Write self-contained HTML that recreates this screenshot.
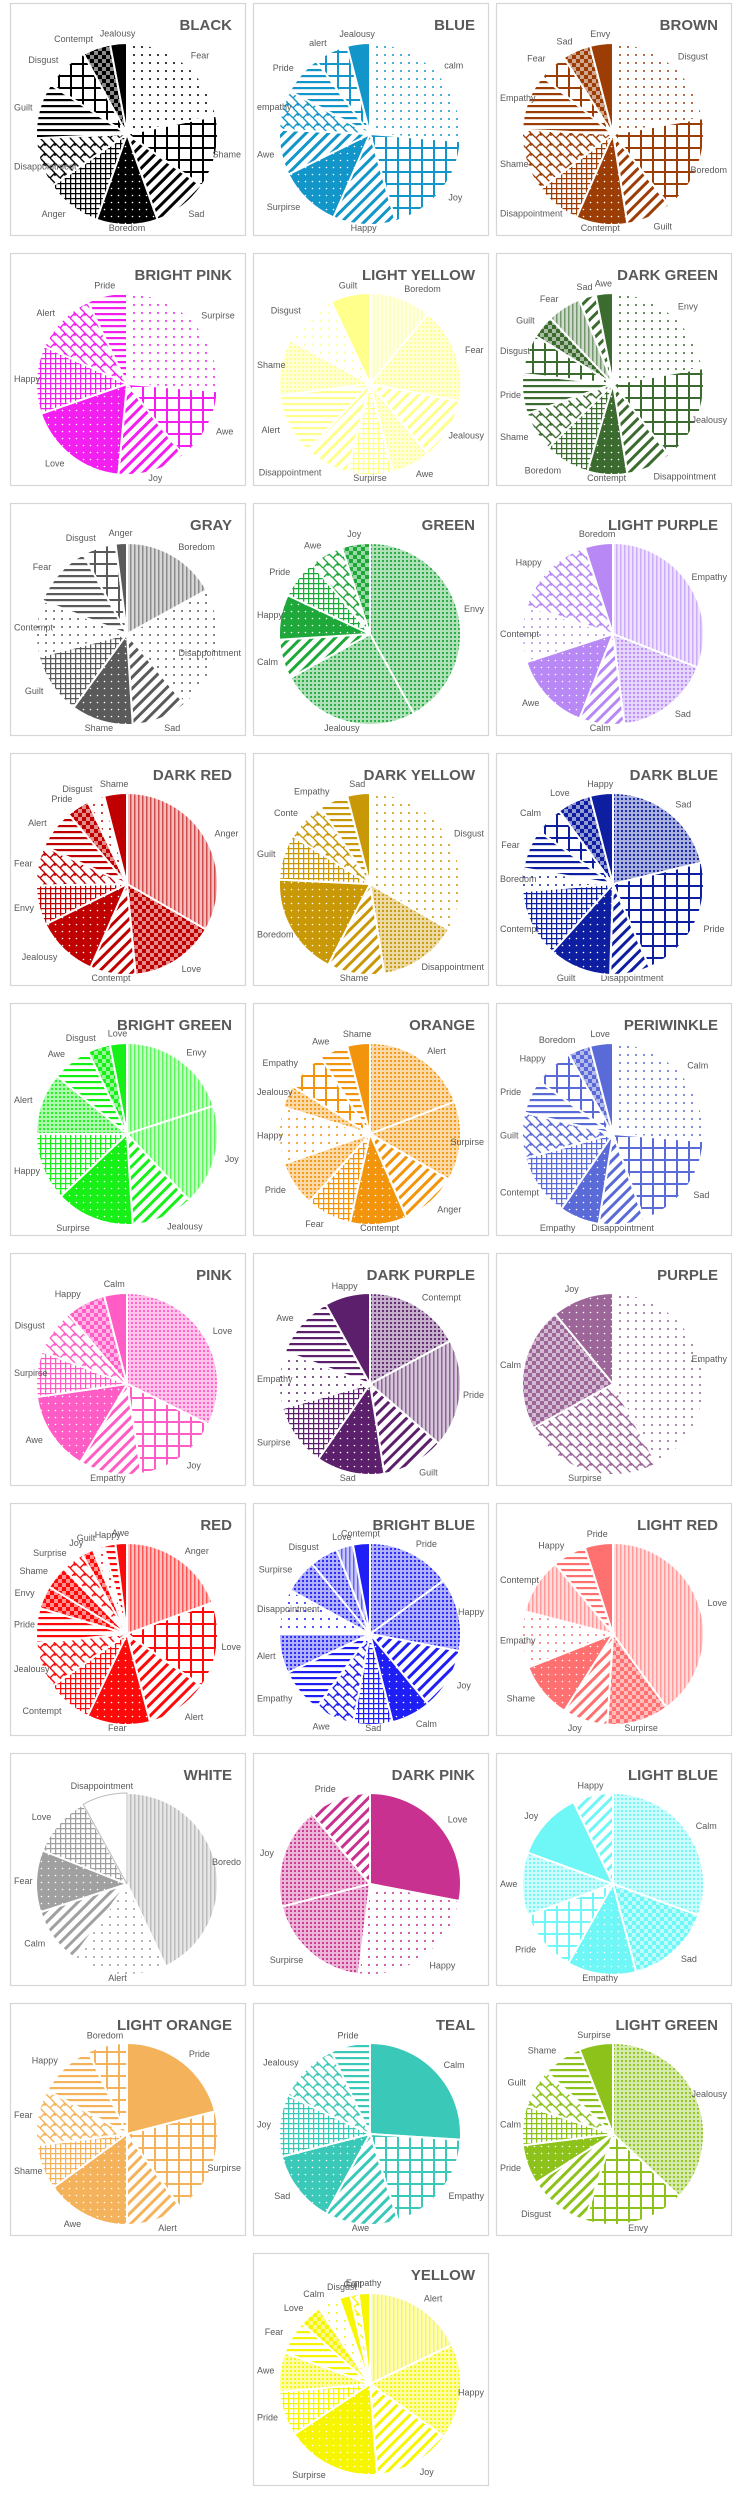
<!DOCTYPE html>
<html><head><meta charset="utf-8"><style>
html,body{margin:0;padding:0;background:#fff;}
svg{display:block;font-family:"Liberation Sans",sans-serif;}
</style></head><body>
<svg id="chart" width="738" height="2500" viewBox="0 0 738 2500" xmlns="http://www.w3.org/2000/svg"><defs id="defs"></defs></svg>
<script>
const chartTitles = ["BLACK","BLUE","BROWN","BRIGHT PINK","LIGHT YELLOW","DARK GREEN","GRAY","GREEN","LIGHT PURPLE","DARK RED","DARK YELLOW","DARK BLUE","BRIGHT GREEN","ORANGE","PERIWINKLE","PINK","DARK PURPLE","PURPLE","RED","BRIGHT BLUE","LIGHT RED","WHITE","DARK PINK","LIGHT BLUE","LIGHT ORANGE","TEAL","LIGHT GREEN","YELLOW"];
const chartLabels = [
["Fear","Shame","Sad","Boredom","Anger","Disappointment","Guilt","Disgust","Contempt","Jealousy"],
["calm","Joy","Happy","Surpirse","Awe","empathy","Pride","alert","Jealousy"],
["Disgust","Boredom","Guilt","Contempt","Disappointment","Shame","Empathy","Fear","Sad","Envy"],
["Surpirse","Awe","Joy","Love","Happy","Alert","Pride"],
["Boredom","Fear","Jealousy","Awe","Surpirse","Disappointment","Alert","Shame","Disgust","Guilt"],
["Envy","Jealousy","Disappointment","Contempt","Boredom","Shame","Pride","Disgust","Guilt","Fear","Sad","Awe"],
["Boredom","Disappointment","Sad","Shame","Guilt","Contempt","Fear","Disgust","Anger"],
["Envy","Jealousy","Calm","Happy","Pride","Awe","Joy"],
["Empathy","Sad","Calm","Awe","Contempt","Happy","Boredom"],
["Anger","Love","Contempt","Jealousy","Envy","Fear","Alert","Pride","Disgust","Shame"],
["Disgust","Disappointment","Shame","Boredom","Guilt","Conte","Empathy","Sad"],
["Sad","Pride","Disappointment","Guilt","Contempt","Boredom","Fear","Calm","Love","Happy"],
["Envy","Joy","Jealousy","Surpirse","Happy","Alert","Awe","Disgust","Love"],
["Alert","Surpirse","Anger","Contempt","Fear","Pride","Happy","Jealousy","Empathy","Awe","Shame"],
["Calm","Sad","Disappointment","Empathy","Contempt","Guilt","Pride","Happy","Boredom","Love"],
["Love","Joy","Empathy","Awe","Surpirse","Disgust","Happy","Calm"],
["Contempt","Pride","Guilt","Sad","Surpirse","Empathy","Awe","Happy"],
["Empathy","Surpirse","Calm","Joy"],
["Anger","Love","Alert","Fear","Contempt","Jealousy","Pride","Envy","Shame","Surprise","Joy","Guilt","Happy","Awe"],
["Pride","Happy","Joy","Calm","Sad","Awe","Empathy","Alert","Disappointment","Surpirse","Disgust","Love","Contempt"],
["Love","Surpirse","Joy","Shame","Empathy","Contempt","Happy","Pride"],
["Boredo","Alert","Calm","Fear","Love","Disappointment"],
["Love","Happy","Surpirse","Joy","Pride"],
["Calm","Sad","Empathy","Pride","Awe","Joy","Happy"],
["Pride","Surpirse","Alert","Awe","Shame","Fear","Happy","Boredom"],
["Calm","Empathy","Awe","Sad","Joy","Jealousy","Pride"],
["Jealousy","Envy","Disgust","Pride","Calm","Guilt","Shame","Surpirse"],
["Alert","Happy","Joy","Surpirse","Pride","Awe","Fear","Love","Calm","Disgust","Guilt","Empathy"]
];
const chartValues = [
[22,13,10,11,10,9,10,8,5,3],
[26,19,11,11,8,7,7,6,4],
[22,17,8,9,8,11,10,5,5,4],
[26,13,12,18,12,11,7],
[11,17,11,7,8,8,11,10,10,7],
[22,17,8,7,8,7,7,7,4,6,3,3],
[17,22,10,11,11,10,11,6,2],
[42,25,7,8,7,6,5],
[31,17,8,14,10,15,5],
[33,15,8,11,7,7,7,4,3,4],
[33,14,10,18,8,7,5,4],
[21,22,7,11,12,4,7,5,6,4],
[20,18,11,14,12,11,7,4,3],
[19,14,10,10,8,8,10,4,7,5,4],
[26,18,8,7,11,8,6,7,4,4],
[32,15,11,14,8,8,7,4],
[17,19,11,12,11,10,11,8],
[42,25,22,11],
[19,15,11,11,8,8,6,4,4,4,2,2,2,2],
[15,13,11,7,7,7,8,7,8,6,5,3,3],
[40,11,8,10,10,10,6,5],
[43,17,10,11,11,8],
[28,24,19,18,11],
[30,15,12,11,11,12,7],
[21,19,10,15,8,10,10,7],
[26,19,13,13,11,11,7],
[37,18,11,7,7,7,7,6],
[18,17,14,17,8,7,6,4,4,2,1.5,2]
];
// styling (not data)
const chartColors = ["#000000","#1295c8","#9c3d06","#f31ef0","#ffff8c","#3b6b2e","#5a5a5a","#1fa83a","#b888f5","#c00000","#c99806","#0d1fa0","#17f017","#f2950c","#5a6bd8","#ff5cc6","#5c1f6b","#9c6699","#ff0a0a","#1f1ff5","#ff7070","#a0a0a0","#c8318f","#6ff6f6","#f4b25a","#3ac9b8","#8cc21a","#f7f500"];
const chartPatterns = [
["dots","grid","diag","soliddots","smallgrid","brick","hlines","grid","check","solid"],
["dots","grid","diag","soliddots","diag","brick","hlines","grid","solid"],
["dots","grid","diag","soliddots","smallgrid","brick","hlines","grid","check","solid"],
["dots","grid","diag","soliddots","smallgrid","brick","hlines"],
["vlines","dense","diag","dense","smallgrid","diag","hlines","dense","dots","solid"],
["dots","grid","diag","soliddots","smallgrid","brick","hlines","grid","check","vlines","diag","solid"],
["vlines","dots","diag","soliddots","smallgrid","dots","hlines","grid","solid"],
["dense","dense","diag","soliddots","smallgrid","brick","check"],
["vlines","dense","diag","soliddots","dots","brick","solid"],
["vlines","check","diag","soliddots","smallgrid","brick","hlines","check","dots","solid"],
["dots","dense","diag","soliddots","smallgrid","brick","hlines","solid"],
["dense","grid","diag","soliddots","smallgrid","dots","hlines","grid","check","solid"],
["vlines","vlines","diag","soliddots","smallgrid","dense","hlines","check","solid"],
["dense","dense","diag","soliddots","smallgrid","dense","dots","dense","grid","hlines","solid"],
["dots","grid","diag","soliddots","smallgrid","brick","hlines","grid","check","solid"],
["dense","grid","diag","soliddots","smallgrid","brick","check","solid"],
["dense","vlines","diag","soliddots","smallgrid","dots","hlines","solid"],
["dots","brick","check","soliddots"],
["vlines","grid","diag","soliddots","smallgrid","brick","hlines","check","check","brick","check","dots","hlines","solid"],
["dense","dense","diag","soliddots","smallgrid","brick","hlines","dense","dots","dense","dense","vlines","solid"],
["vlines","check","diag","soliddots","dots","vlines","hlines","solid"],
["vlines","dots","diag","soliddots","smallgrid","none"],
["solid","dots","dense","dense","diag"],
["dense","check","soliddots","grid","dense","solid","diag"],
["solid","grid","diag","soliddots","smallgrid","brick","hlines","grid"],
["solid","grid","diag","soliddots","smallgrid","brick","hlines"],
["dense","grid","diag","soliddots","smallgrid","brick","hlines","solid"],
["vlines","dense","diag","soliddots","smallgrid","dense","hlines","check","dots","solid","brick","solid"]
];

const NS = "http://www.w3.org/2000/svg";
const svg = document.getElementById("chart");
const defs = document.getElementById("defs");
function mk(tag, attrs, parent){const e=document.createElementNS(NS,tag);for(const k in attrs)e.setAttribute(k,attrs[k]);if(parent)parent.appendChild(e);return e;}

function makePattern(id, type, c){
  const sizes={dots:8,grid:12,smallgrid:5,diag:8,soliddots:7,hlines:6,vlines:4,dense:4,check:8,brick:10};
  const s=sizes[type]||8;
  const p=mk("pattern",{id:id,patternUnits:"userSpaceOnUse",width:s,height:s},defs);
  if(type==="diag") p.setAttribute("patternTransform","rotate(45)");
  mk("rect",{x:0,y:0,width:s,height:s,fill:"#fff"},p);
  if(type==="dots") mk("circle",{cx:4,cy:4,r:1,fill:c},p);
  else if(type==="grid"){mk("path",{d:"M0 1H12M1 0V12",stroke:c,"stroke-width":2,fill:"none"},p);}
  else if(type==="smallgrid"){mk("path",{d:"M0 0.6H5M0.6 0V5",stroke:c,"stroke-width":1.3,fill:"none"},p);}
  else if(type==="diag"){mk("rect",{x:0,y:0,width:3,height:8,fill:c},p);}
  else if(type==="soliddots"){mk("rect",{x:0,y:0,width:7,height:7,fill:c},p);mk("circle",{cx:3.5,cy:3.5,r:0.8,fill:"#fff"},p);}
  else if(type==="hlines"){mk("rect",{x:0,y:0,width:6,height:2.2,fill:c},p);}
  else if(type==="vlines"){mk("rect",{x:0,y:0,width:4,height:4,fill:c,opacity:0.25},p);mk("rect",{x:0,y:0,width:1.5,height:4,fill:c,opacity:0.6},p);}
  else if(type==="dense"){mk("rect",{x:0,y:0,width:4,height:4,fill:c,opacity:0.35},p);mk("circle",{cx:2,cy:2,r:1.1,fill:c},p);}
  else if(type==="check"){mk("rect",{x:0,y:0,width:8,height:8,fill:c,opacity:0.45},p);mk("rect",{x:0,y:0,width:4,height:4,fill:c},p);mk("rect",{x:4,y:4,width:4,height:4,fill:c},p);}
  else if(type==="brick"){mk("path",{d:"M0 5L5 0L10 5M0 5L5 10M5 0V3",stroke:c,"stroke-width":1.4,fill:"none"},p);}
  return id;
}

const R = 91, CX = 117, CY = 131, PW = 235, PH = 232;
function polar(cx,cy,r,a){return [cx+r*Math.sin(a), cy-r*Math.cos(a)];}

chartTitles.forEach((title, ci) => {
  const col = ci < 27 ? ci % 3 : 1;
  const row = Math.floor(ci / 3);
  const px = 10 + col * 243, py = 3 + row * 250;
  const g = mk("g",{transform:`translate(${px},${py})`},svg);
  
  
  const frame = mk("rect",{x:0.5,y:0.5,width:PW,height:PH,fill:"#fff",stroke:"#d6d6d6","stroke-width":1.2},g);
  
  
  const vals = chartValues[ci], labs = chartLabels[ci], pats = chartPatterns[ci], color = chartColors[ci];
  const total = vals.reduce((a,b)=>a+b,0);
  let acc = 0;
  vals.forEach((v, i) => {
    const a0 = acc / total * 2 * Math.PI; acc += v;
    const a1 = acc / total * 2 * Math.PI;
    const [x0,y0] = polar(CX,CY,R,a0), [x1,y1] = polar(CX,CY,R,a1);
    const large = (a1 - a0) > Math.PI ? 1 : 0;
    const type = pats[i] || "solid";
    let fill;
    if (type === "solid") fill = color;
    else if (type === "none") fill = "#fff";
    else fill = "url(#" + makePattern(`p${ci}_${i}`, type, color) + ")";
    const path = mk("path",{d:`M${CX} ${CY}L${x0.toFixed(2)} ${y0.toFixed(2)}A${R} ${R} 0 ${large} 1 ${x1.toFixed(2)} ${y1.toFixed(2)}Z`,fill:fill,stroke:"#fff","stroke-width":2},g);
    if (type === "none") { path.setAttribute("stroke","#bbb"); path.setAttribute("stroke-width","1"); }
    
    
    const am = (a0 + a1) / 2;
    let [lx, ly] = polar(CX, CY, R + 10, am);
    const s = Math.sin(am);
    const lab = mk("text",{x:0,y:(ly+3).toFixed(1),"text-anchor":"start","font-size":9,fill:"#595959"},g);
    lab.textContent = labs[i];
    
    
    const w = lab.getComputedTextLength ? lab.getComputedTextLength() : labs[i].length * 4.8;
    let left = s > 0.3 ? lx : (s < -0.3 ? lx - w : lx - w / 2);
    left = Math.max(4, Math.min(PW - 4 - w, left));
    lab.setAttribute("x", left.toFixed(1));
    let yy = Math.max(12, Math.min(PH - 4, ly + 3));
    lab.setAttribute("y", yy.toFixed(1));
  });
  const t = mk("text",{x:222,y:27,"text-anchor":"end","font-size":15,"font-weight":"bold",fill:"#595959"},g);
  t.textContent = title;
  
  
});
</script>
</body></html>
